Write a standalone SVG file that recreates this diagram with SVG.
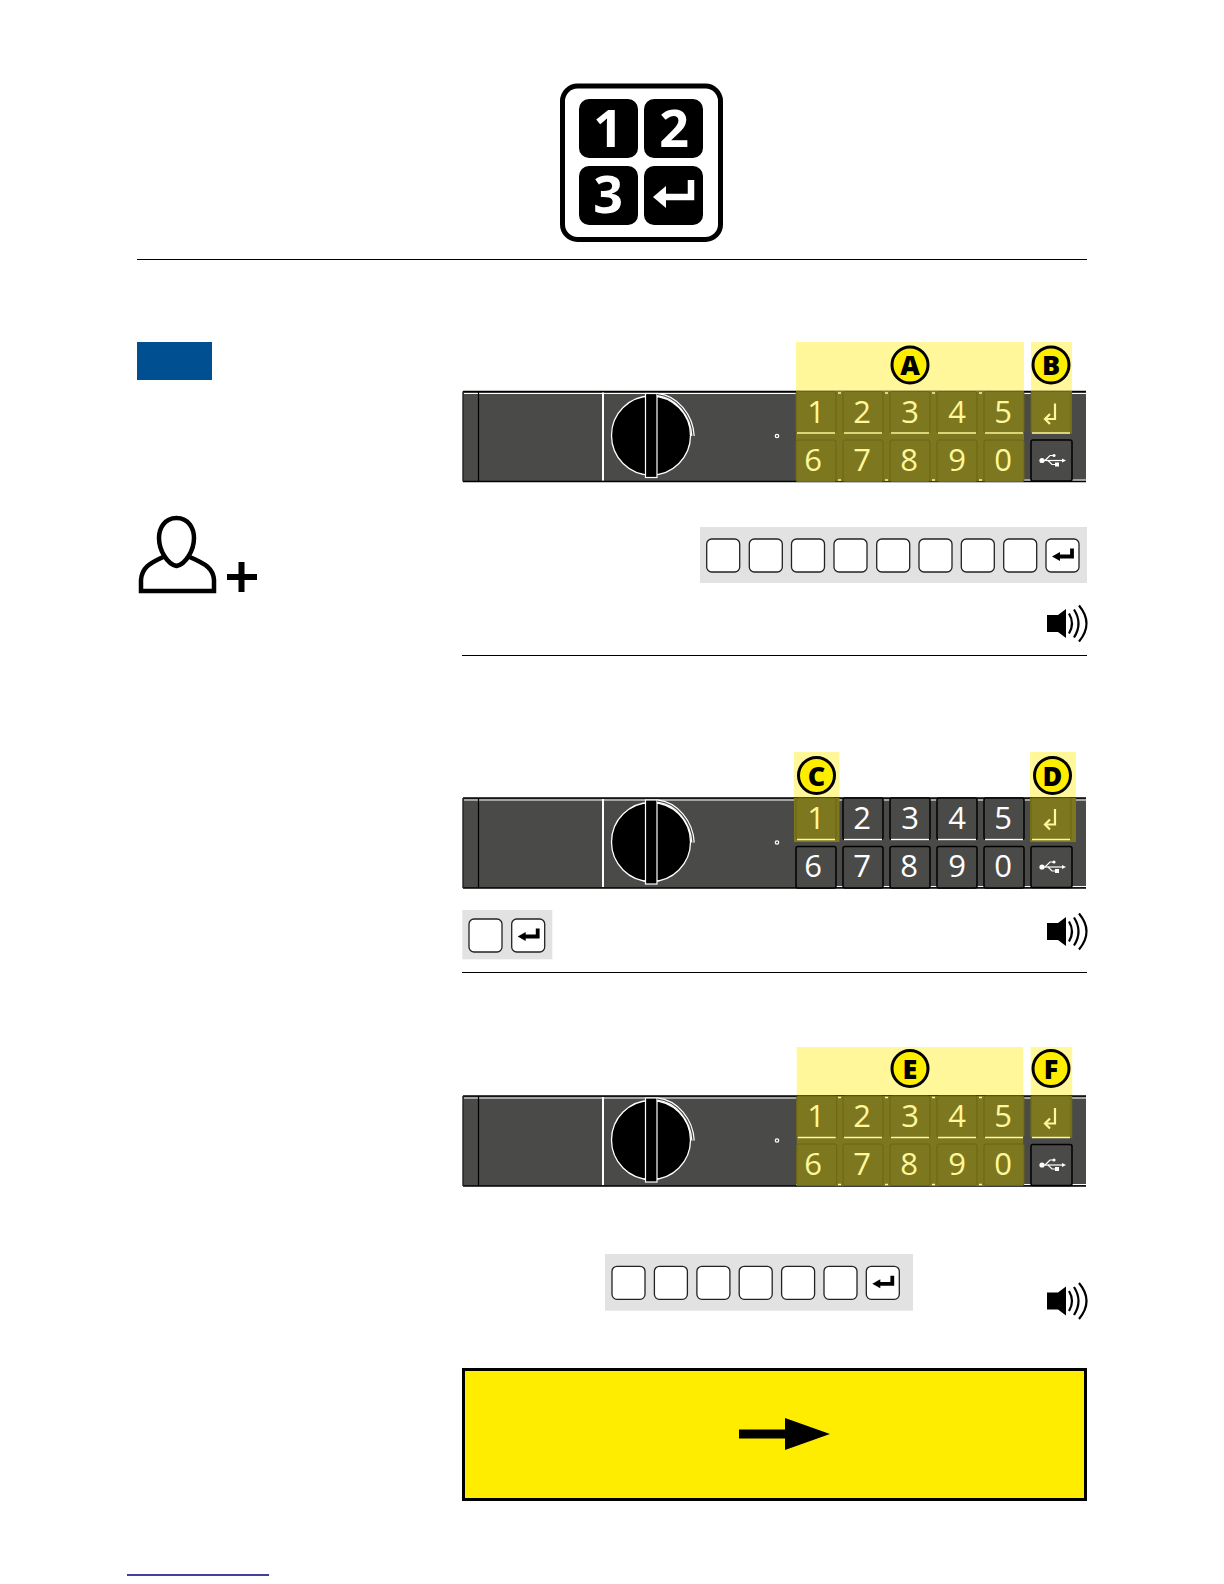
<svg xmlns="http://www.w3.org/2000/svg" width="1224" height="1584" viewBox="0 0 1224 1584">
<style>
text{font-family:"Open Sans","Noto Sans",sans-serif}
.d{font-size:31px;text-anchor:middle;fill:#fff}
.p{fill:#fff799}
.l{font-size:27px;font-weight:800;text-anchor:middle;fill:#000}
.bd{font-size:52px;font-weight:700;text-anchor:middle;fill:#fff}
.ck{fill:#fff;stroke:#222;stroke-width:1.3}
.k{fill:#4a4a48;stroke:#000;stroke-width:1.5}
.o{fill:#7d7720;stroke:#6b6612;stroke-width:1}
.rule{stroke:#000;stroke-width:1.2}
.strip{fill:#e2e2e2}
.pale{fill:#fff799}
.olive{fill:#7d7720}
.lab{fill:#ffed00;stroke:#000;stroke-width:3}
</style>
<defs>
<g id="panel">
<rect x="463" y="0" width="623" height="90" fill="#4a4a48"/>
<path d="M463 0H1086M463 90H1086" stroke="#000" stroke-width="1.600"/>
<path d="M463 0V90" stroke="#222" stroke-width="1.400"/>
<path d="M464 2H1086M796 88.500H1086" stroke="#fff" stroke-width="1"/>
<path d="M478.500 0V90" stroke="#000" stroke-width="1.200"/>
<path d="M603 1V89" stroke="#fff" stroke-width="2"/>
<circle cx="651" cy="44" r="39.500" fill="#000" stroke="#fff" stroke-width="1.300"/>
<rect x="645.500" y="2" width="11.500" height="84" fill="#000" stroke="#fff" stroke-width="1.200"/>
<path d="M657 3C677 5 692 24 693 44.500" fill="none" stroke="#fff" stroke-width="3.600"/>
<path d="M657 3C677 5 692 24 693 44.500" fill="none" stroke="#4a4a48" stroke-width="1.200"/>
<circle cx="777" cy="44.500" r="1.700" fill="#4a4a48" stroke="#fff" stroke-width="1.300"/>
</g>
<g id="enterp"><path d="M15 12V27.500H6" fill="none" stroke="#fff799" stroke-width="2.200"/><path d="M10 22.500L5 27.500L10 32.500" fill="none" stroke="#fff799" stroke-width="2.200"/></g>
<g id="usbk">
<rect x="0" y="0" width="41" height="41" rx="2" class="k"/>
<path d="M10 20.500H32" stroke="#fff" stroke-width="1.200"/>
<path d="M31 18.500L35 20.500L31 22.500Z" fill="#fff"/>
<circle cx="11" cy="20.500" r="2.600" fill="#fff"/>
<path d="M14 20.500L19 15.500H22M17 20.500L21 24.500H25" fill="none" stroke="#fff" stroke-width="1.200"/>
<circle cx="23" cy="15.500" r="1.600" fill="#fff"/>
<rect x="24" y="22.500" width="4" height="4" fill="#fff"/>
</g>
<rect id="hk" x="0" y="0" width="40" height="41.500" rx="2" class="k"/>
<rect id="ok" x="0" y="0" width="40" height="41.500" rx="2" class="o"/>
<path id="wl" d="M1 41.500H39" stroke="#fff" stroke-width="1.500"/>
<path id="pl" d="M1 41.500H39" stroke="#fff799" stroke-width="1.300"/>
<rect id="ckey" width="33" height="33" rx="5" class="ck"/>
<g id="ekey"><rect width="33" height="33" rx="5" class="ck"/><path d="M12 17.500H26V9.500" fill="none" stroke="#000" stroke-width="3.800"/><path d="M6 17.500L14 13V22Z" fill="#000"/></g>
<g id="spk">
<path d="M0 -8.500H11L19 -14.500V14.500L11 8.500H0Z" fill="#000"/>
<path d="M22 -10Q28 0 22 10M27 -14Q36 0 27 14M32 -18Q47 0 32 18" fill="none" stroke="#000" stroke-width="2.200"/>
</g>
<path id="ticks" d="M838 0H841M885 0H888M932 0H935M979 0H982" stroke="#fff799" stroke-width="1.300"/>
</defs>

<g id="top-icon">
<rect x="562.500" y="86" width="158" height="153.500" rx="15" fill="#fff" stroke="#000" stroke-width="5"/>
<rect x="579" y="99" width="59" height="59" rx="10" fill="#000"/>
<rect x="644" y="99" width="59" height="59" rx="10" fill="#000"/>
<rect x="579" y="166" width="59" height="59" rx="10" fill="#000"/>
<rect x="644" y="166" width="59" height="59" rx="10" fill="#000"/>
<text class="bd" x="608" y="147">1</text>
<text class="bd" x="674" y="147">2</text>
<text class="bd" x="608" y="213">3</text>
<path d="M691 180V197H664" fill="none" stroke="#fff" stroke-width="6.500"/>
<path d="M653 197L666 186V208Z" fill="#fff"/>
</g>
<path class="rule" d="M137 259.500H1087"/>
<rect id="badge" x="137" y="342" width="75" height="38" fill="#004f91"/>
<g id="person">
<path d="M176.500 518C164 518 159 529 159 538C159 550 167 564 176.500 566C186 564 194 550 194 538C194 529 189 518 176.500 518ZM165 556C154 562 142 565 141 580V591H214V580C213 565 199 562 188 556" fill="none" stroke="#000" stroke-width="4.500"/>
<path d="M227 577H257M241.500 562V592" stroke="#000" stroke-width="6"/>
</g>

<g id="step1-panel">
<rect class="pale" x="796" y="342" width="228" height="50"/>
<rect class="pale" x="1031" y="342" width="41" height="50"/>
<use href="#panel" y="391.500"/>
<rect class="olive" x="796" y="391" width="228" height="90.500"/>
<rect class="olive" x="1031" y="391" width="41" height="42.500"/>
<use href="#ok" x="796" y="391.500"/><use href="#ok" x="843" y="391.500"/><use href="#ok" x="890" y="391.500"/><use href="#ok" x="937" y="391.500"/><use href="#ok" x="984" y="391.500"/>
<use href="#pl" x="796" y="391.500"/><use href="#pl" x="843" y="391.500"/><use href="#pl" x="890" y="391.500"/><use href="#pl" x="937" y="391.500"/><use href="#pl" x="984" y="391.500"/>
<use href="#ok" x="796" y="440"/><use href="#ok" x="843" y="440"/><use href="#ok" x="890" y="440"/><use href="#ok" x="937" y="440"/><use href="#ok" x="984" y="440"/>
<use href="#ticks" y="393"/><use href="#ticks" y="480"/>
<use href="#ok" x="1031" y="391.500"/><use href="#pl" x="1031" y="391.500"/>
<use href="#enterp" x="1040" y="391.500"/>
<use href="#usbk" x="1031" y="440"/>
<text class="d p" x="816" y="423">1</text><text class="d p" x="862" y="423">2</text><text class="d p" x="910" y="423">3</text><text class="d p" x="957" y="423">4</text><text class="d p" x="1003" y="423">5</text><text class="d p" x="813" y="471">6</text><text class="d p" x="862" y="471">7</text><text class="d p" x="909" y="471">8</text><text class="d p" x="957" y="471">9</text><text class="d p" x="1003" y="471">0</text>
<circle class="lab" cx="910" cy="365" r="18"/><text class="l" x="910" y="375">A</text>
<circle class="lab" cx="1051" cy="365" r="18"/><text class="l" x="1051" y="375">B</text>
</g>
<g id="step1-code">
<rect class="strip" x="700" y="527" width="387" height="56"/>
<use href="#ckey" x="706.700" y="539"/><use href="#ckey" x="749.300" y="539"/><use href="#ckey" x="791.500" y="539"/><use href="#ckey" x="834" y="539"/><use href="#ckey" x="876.700" y="539"/><use href="#ckey" x="919" y="539"/><use href="#ckey" x="961.300" y="539"/><use href="#ckey" x="1003.700" y="539"/><use href="#ekey" x="1046" y="539"/>
</g>
<use id="spk1" href="#spk" x="1047" y="623.500"/>
<path class="rule" d="M462 655.500H1087"/>

<g id="step2-panel">
<rect class="pale" x="794" y="752" width="45.500" height="47"/>
<rect class="pale" x="1030" y="752" width="46" height="47"/>
<use href="#panel" y="798"/>
<use href="#hk" x="843" y="798"/><use href="#hk" x="890" y="798"/><use href="#hk" x="937" y="798"/><use href="#hk" x="984" y="798"/>
<use href="#wl" x="843" y="798"/><use href="#wl" x="890" y="798"/><use href="#wl" x="937" y="798"/><use href="#wl" x="984" y="798"/>
<use href="#hk" x="796" y="846.500"/><use href="#hk" x="843" y="846.500"/><use href="#hk" x="890" y="846.500"/><use href="#hk" x="937" y="846.500"/><use href="#hk" x="984" y="846.500"/>
<rect class="olive" x="794" y="798" width="45.500" height="44"/>
<rect class="olive" x="1030" y="798" width="46" height="44"/>
<use href="#ok" x="796" y="798"/><use href="#pl" x="796" y="798"/>
<use href="#ok" x="1031" y="798"/><use href="#pl" x="1031" y="798"/>
<use href="#enterp" x="1040" y="797"/>
<use href="#usbk" x="1031" y="846.500"/>
<text class="d p" x="816" y="829">1</text><text class="d" x="862" y="829">2</text><text class="d" x="910" y="829">3</text><text class="d" x="957" y="829">4</text><text class="d" x="1003" y="829">5</text><text class="d" x="813" y="877">6</text><text class="d" x="862" y="877">7</text><text class="d" x="909" y="877">8</text><text class="d" x="957" y="877">9</text><text class="d" x="1003" y="877">0</text>
<circle class="lab" cx="816.500" cy="775.500" r="18"/><text class="l" x="816.500" y="785.500">C</text>
<circle class="lab" cx="1052.500" cy="775.500" r="18"/><text class="l" x="1052.500" y="785.500">D</text>
</g>
<g id="step2-code">
<rect class="strip" x="462.300" y="910" width="90" height="49.300"/>
<use href="#ckey" x="469" y="919"/><use href="#ekey" x="511.700" y="919"/>
</g>
<use id="spk2" href="#spk" x="1047" y="931.500"/>
<path class="rule" d="M462 972.500H1087"/>

<g id="step3-panel">
<rect class="pale" x="796.700" y="1047" width="226.500" height="50"/>
<rect class="pale" x="1030.700" y="1047" width="41.500" height="50"/>
<use href="#panel" y="1096"/>
<rect class="olive" x="796.700" y="1096" width="226.500" height="90"/>
<rect class="olive" x="1030.700" y="1096" width="41.500" height="42"/>
<use href="#ok" x="796.700" y="1096"/><use href="#ok" x="843" y="1096"/><use href="#ok" x="890" y="1096"/><use href="#ok" x="937" y="1096"/><use href="#ok" x="984" y="1096"/>
<use href="#pl" x="796.700" y="1096"/><use href="#pl" x="843" y="1096"/><use href="#pl" x="890" y="1096"/><use href="#pl" x="937" y="1096"/><use href="#pl" x="984" y="1096"/>
<use href="#ok" x="796.700" y="1144"/><use href="#ok" x="843" y="1144"/><use href="#ok" x="890" y="1144"/><use href="#ok" x="937" y="1144"/><use href="#ok" x="984" y="1144"/>
<use href="#ticks" y="1097.500"/><use href="#ticks" y="1184.500"/>
<use href="#ok" x="1031" y="1096"/><use href="#pl" x="1031" y="1096"/>
<use href="#enterp" x="1040" y="1096"/>
<use href="#usbk" x="1031" y="1144.500"/>
<text class="d p" x="816" y="1127">1</text><text class="d p" x="862" y="1127">2</text><text class="d p" x="910" y="1127">3</text><text class="d p" x="957" y="1127">4</text><text class="d p" x="1003" y="1127">5</text><text class="d p" x="813" y="1175">6</text><text class="d p" x="862" y="1175">7</text><text class="d p" x="909" y="1175">8</text><text class="d p" x="957" y="1175">9</text><text class="d p" x="1003" y="1175">0</text>
<circle class="lab" cx="910" cy="1068.500" r="18"/><text class="l" x="910" y="1078.500">E</text>
<circle class="lab" cx="1051" cy="1068.500" r="18"/><text class="l" x="1051" y="1078.500">F</text>
</g>
<g id="step3-code">
<rect class="strip" x="605" y="1254" width="308" height="56.700"/>
<use href="#ckey" x="612" y="1266.300"/><use href="#ckey" x="654.400" y="1266.300"/><use href="#ckey" x="696.900" y="1266.300"/><use href="#ckey" x="739.200" y="1266.300"/><use href="#ckey" x="781.600" y="1266.300"/><use href="#ckey" x="824" y="1266.300"/><use href="#ekey" x="866.300" y="1266.300"/>
</g>
<use id="spk3" href="#spk" x="1047" y="1301"/>

<g id="notice">
<rect x="463.500" y="1369.500" width="622" height="130" fill="#ffed00" stroke="#000" stroke-width="3"/>
<path d="M739 1429.500H785V1418L830 1434L785 1450V1438.500H739Z" fill="#000"/>
</g>
<path d="M127 1575H269" stroke="#000080" stroke-width="1.300"/>
</svg>
